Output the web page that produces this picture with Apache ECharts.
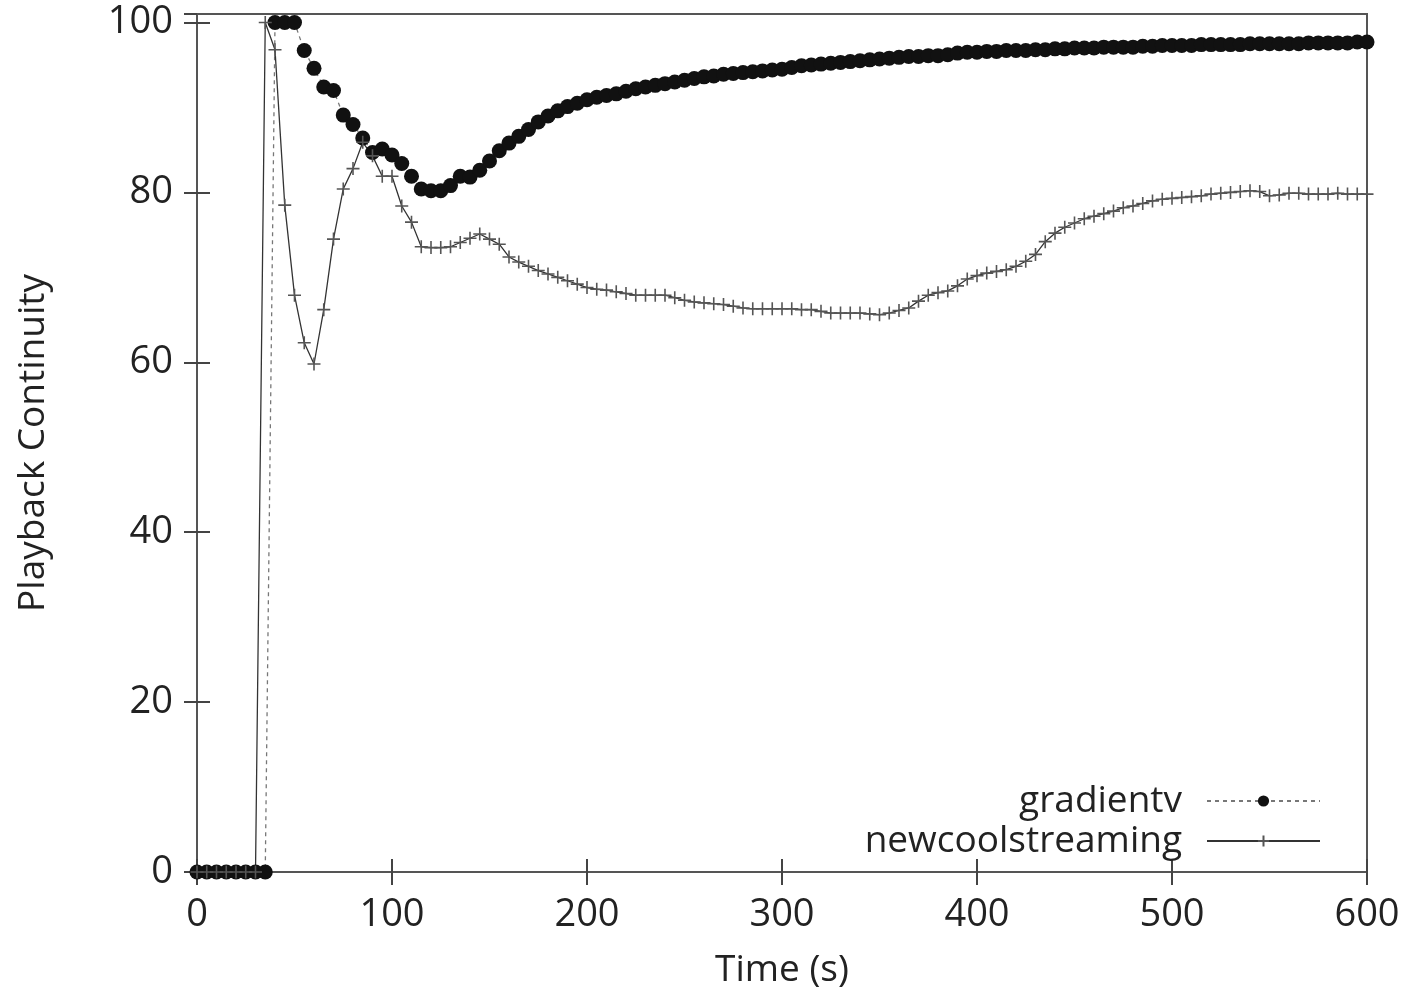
<!DOCTYPE html>
<html lang="en">
<head>
<meta charset="UTF-8" />
<title>Playback Continuity</title>
<script src="https://cdn.jsdelivr.net/npm/echarts@6/dist/echarts.min.js"></script>
<style>
  html, body { margin: 0; padding: 0; background: #ffffff; }
  #chart { width: 1410px; height: 995px; }
</style>
</head>
<body>
<div id="chart"></div>
<script type="text/javascript">
// time axis, one sample every 5 s
var times = [
  0, 5, 10, 15, 20, 25, 30, 35, 40, 45, 50, 55, 60, 65, 70, 75, 80, 85, 90, 95,
  100, 105, 110, 115, 120, 125, 130, 135, 140, 145, 150, 155, 160, 165, 170, 175, 180, 185, 190, 195,
  200, 205, 210, 215, 220, 225, 230, 235, 240, 245, 250, 255, 260, 265, 270, 275, 280, 285, 290, 295,
  300, 305, 310, 315, 320, 325, 330, 335, 340, 345, 350, 355, 360, 365, 370, 375, 380, 385, 390, 395,
  400, 405, 410, 415, 420, 425, 430, 435, 440, 445, 450, 455, 460, 465, 470, 475, 480, 485, 490, 495,
  500, 505, 510, 515, 520, 525, 530, 535, 540, 545, 550, 555, 560, 565, 570, 575, 580, 585, 590, 595,
  600
];

var gradientv = [
  0, 0, 0, 0, 0, 0, 0, 0,
  100, 100, 100, 96.7, 94.6, 92.4, 92.0, 89.1, 88.0, 86.4,
  84.7, 85.1, 84.4, 83.4, 81.9, 80.4, 80.2, 80.2, 80.8, 81.9,
  81.8, 82.6, 83.7, 84.9, 85.8, 86.6, 87.4, 88.3, 89.0, 89.6,
  90.1, 90.5, 90.9, 91.2, 91.4, 91.6, 91.9, 92.2, 92.4, 92.6,
  92.8, 93.0, 93.2, 93.4, 93.6, 93.7, 93.9, 94.0, 94.1, 94.2,
  94.3, 94.4, 94.5, 94.7, 94.9, 95.0, 95.1, 95.2, 95.3, 95.4,
  95.5, 95.6, 95.7, 95.8, 95.9, 96.0, 96.0, 96.1, 96.1, 96.2,
  96.4, 96.5, 96.5, 96.6, 96.6, 96.7, 96.7, 96.7, 96.8, 96.8,
  96.9, 96.9, 97.0, 97.0, 97.0, 97.1, 97.1, 97.1, 97.1, 97.2,
  97.2, 97.3, 97.3, 97.3, 97.3, 97.4, 97.4, 97.4, 97.4, 97.4,
  97.5, 97.5, 97.5, 97.5, 97.5, 97.5, 97.6, 97.6, 97.6, 97.6,
  97.6, 97.7, 97.7
];

var newcoolstreaming = [
  0, 0, 0, 0, 0, 0, 0,
  100, 96.8, 78.5, 67.9, 62.3, 59.8, 66.2, 74.5, 80.4, 82.8,
  85.9, 84.3, 81.9, 81.9, 78.4, 76.5, 73.6, 73.5, 73.5, 73.6,
  74.1, 74.6, 75.1, 74.5, 73.9, 72.4, 71.8, 71.3, 70.8, 70.4,
  70.0, 69.6, 69.2, 68.8, 68.6, 68.5, 68.3, 68.1, 67.9, 67.9,
  67.9, 67.9, 67.6, 67.3, 67.1, 67.0, 66.9, 66.8, 66.6, 66.4,
  66.3, 66.3, 66.3, 66.3, 66.3, 66.2, 66.2, 66.0, 65.8, 65.8,
  65.8, 65.8, 65.7, 65.6, 65.8, 66.1, 66.4, 67.2, 67.9, 68.2,
  68.4, 69.0, 69.8, 70.2, 70.5, 70.7, 70.9, 71.3, 71.9, 72.7,
  74.2, 75.2, 75.9, 76.4, 76.9, 77.2, 77.5, 77.8, 78.2, 78.4,
  78.7, 79.0, 79.2, 79.3, 79.4, 79.5, 79.6, 79.8, 79.9, 80.0,
  80.1, 80.2, 80.1, 79.6, 79.7, 79.9, 79.9, 79.8, 79.8, 79.8,
  79.9, 79.8, 79.8, 79.8
];

var xTicks = [0, 100, 200, 300, 400, 500, 600];
var yTicks = [0, 20, 40, 60, 80, 100];

function pairs(vals) {
  var out = [];
  for (var i = 0; i < times.length; i++) {
    out.push([times[i], vals[i]]);
  }
  return out;
}

var fontFamily = "'Open Sans', sans-serif";
var tickStyle = { show: true, inside: true, length: 13, lineStyle: { color: '#444', width: 2 } };

var myChart = echarts.init(document.getElementById('chart'));
var option = {
  backgroundColor: '#ffffff',
  animation: false,
  textStyle: { fontFamily: fontFamily, color: '#222' },
  grid: {
    left: 197, right: 43, top: 14, bottom: 123,
    show: true, borderColor: '#555', borderWidth: 2, backgroundColor: 'transparent'
  },
  legend: {
    orient: 'vertical',
    align: 'right',
    right: 84,
    top: 776,
    itemWidth: 113,
    itemHeight: 14,
    itemGap: 0,
    textStyle: { fontSize: 37, color: '#222', fontFamily: fontFamily, lineHeight: 40, padding: [0, 20, 0, 0] },
    data: ['gradientv', 'newcoolstreaming']
  },
  xAxis: [
    {
      type: 'value', min: 0, max: 600, interval: 100,
      name: 'Time (s)', nameLocation: 'middle', nameGap: 80,
      nameTextStyle: { fontSize: 37, color: '#222', fontFamily: fontFamily },
      axisLine: { show: false },
      axisTick: tickStyle,
      axisLabel: { fontSize: 38, color: '#222', margin: 24,
        formatter: function (v) { return xTicks.indexOf(v) >= 0 ? String(v) : ''; } },
      splitLine: { show: false }
    },
    {
      type: 'value', position: 'top', min: 0, max: 600, interval: 100,
      axisLine: { show: false }, axisTick: tickStyle,
      axisLabel: { show: false }, splitLine: { show: false }
    }
  ],
  yAxis: [
    {
      type: 'value', min: 0, max: 101, interval: 20,
      name: 'Playback Continuity', nameLocation: 'middle', nameGap: 145,
      nameTextStyle: { fontSize: 37, color: '#222', fontFamily: fontFamily },
      axisLine: { show: false },
      axisTick: tickStyle,
      axisLabel: { fontSize: 38, color: '#222', margin: 24, showMaxLabel: false,
        formatter: function (v) { return yTicks.indexOf(v) >= 0 ? String(v) : ''; } },
      splitLine: { show: false }
    },
    {
      type: 'value', position: 'right', min: 0, max: 101, interval: 20,
      axisLine: { show: false }, axisTick: tickStyle,
      axisLabel: { show: false }, splitLine: { show: false }
    }
  ],
  series: [
    {
      name: 'gradientv',
      type: 'line',
      data: pairs(gradientv),
      symbol: 'circle',
      symbolSize: 15,
      showAllSymbol: true,
      itemStyle: { color: '#111', borderWidth: 0 },
      lineStyle: { color: '#777', width: 1.3, type: [4, 4] }
    },
    {
      name: 'newcoolstreaming',
      type: 'line',
      data: pairs(newcoolstreaming),
      symbol: 'path://M0,6H12M6,0V12',
      symbolSize: 13,
      showAllSymbol: true,
      itemStyle: { color: '#555', borderColor: '#555', borderWidth: 1.6 },
      lineStyle: { color: '#333', width: 1.3 }
    }
  ]
};
myChart.setOption(option);
</script>
</body>
</html>
